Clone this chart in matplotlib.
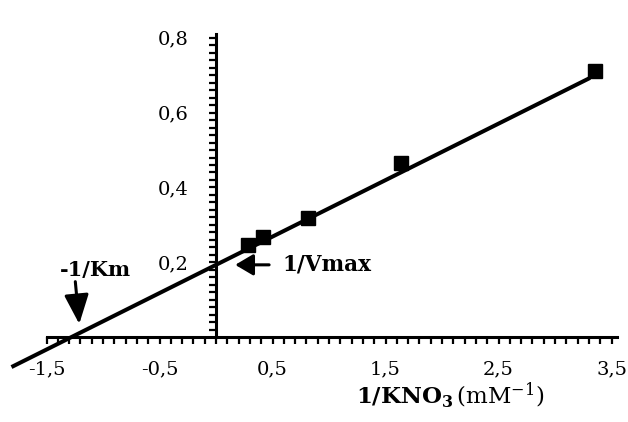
import numpy as np
import matplotlib
matplotlib.use('Agg')
import matplotlib.pyplot as plt

plt.rcParams['font.family'] = ['DejaVu Serif']
plt.rcParams['mathtext.fontset'] = 'dejavuserif'

# Lineweaver-Burk data: 1/[KNO3] (mM^-1) vs 1/v
inv_s = [0.28, 0.42, 0.81, 1.64, 3.35]
inv_v = [0.245, 0.267, 0.317, 0.465, 0.71]

# fitted straight line (intercept = 1/Vmax)
intercept = 0.193
slope = 0.151
line_x = [-1.81, 3.31]

x_major = [-1.5, -0.5, 0.5, 1.5, 2.5, 3.5]
y_major = [0.2, 0.4, 0.6, 0.8]


def comma(v):
    return f'{v:g}'.replace('.', ',')


fig = plt.figure(figsize=(6.28, 4.22), dpi=100)
ax = fig.add_axes([1.3 / 628, 2.7 / 422, 621.5 / 628, 392.7 / 422])
ax.set_xlim(-1.9, 3.6)
ax.set_ylim(-0.22, 0.83)

# axes crossing at the origin
for side in ['top', 'right']:
    ax.spines[side].set_visible(False)
ax.spines['left'].set_position(('data', 0))
ax.spines['bottom'].set_position(('data', 0))
ax.spines['left'].set_bounds(0, 0.81)
ax.spines['bottom'].set_bounds(-1.5, 3.55)
for side in ['left', 'bottom']:
    ax.spines[side].set_linewidth(2.2)

xt = np.round(np.arange(-1.5, 3.51, 0.1), 2)
ax.set_xticks(xt)
ax.set_xticklabels([comma(v) if np.isclose(v, x_major).any() else '' for v in xt])
yt = np.round(np.arange(0.02, 0.81, 0.02), 2)
ax.set_yticks(yt)
ax.set_yticklabels([comma(v) if np.isclose(v, y_major).any() else '' for v in yt])
ax.tick_params(axis='x', direction='out', length=5, width=1.6, pad=12, labelsize=14)
ax.tick_params(axis='y', direction='out', length=5, width=1.6, pad=15, labelsize=14)

# regression line and points
lx = np.array(line_x)
ax.plot(lx, intercept + slope * lx, color='black', lw=2.9, solid_capstyle='butt')
ax.plot(inv_s, inv_v, 's', color='black', ms=9.5, clip_on=False)

# intercept annotations
ax.text(-1.07, 0.18, '-1/Km', ha='center', va='center', fontsize=15, fontweight='bold')
ax.annotate('', xy=(-1.21, 0.035), xytext=(-1.245, 0.148),
            arrowprops=dict(arrowstyle='-|>,head_width=0.75,head_length=1.8',
                            color='black', lw=2.2, shrinkA=0, shrinkB=0))
ax.annotate('', xy=(0.17, intercept), xytext=(0.47, intercept),
            arrowprops=dict(arrowstyle='-|>,head_width=0.65,head_length=1.1',
                            color='black', lw=2.2, shrinkA=0, shrinkB=0))
ax.text(0.59, intercept, '1/Vmax', ha='left', va='center', fontsize=15.5, fontweight='bold')

ax.text(2.07, -0.155, r'$\mathbf{1/KNO_3}\,\mathrm{(mM^{-1})}$',
        ha='center', va='center', fontsize=16.5)

fig.savefig('out.png', dpi=100)
